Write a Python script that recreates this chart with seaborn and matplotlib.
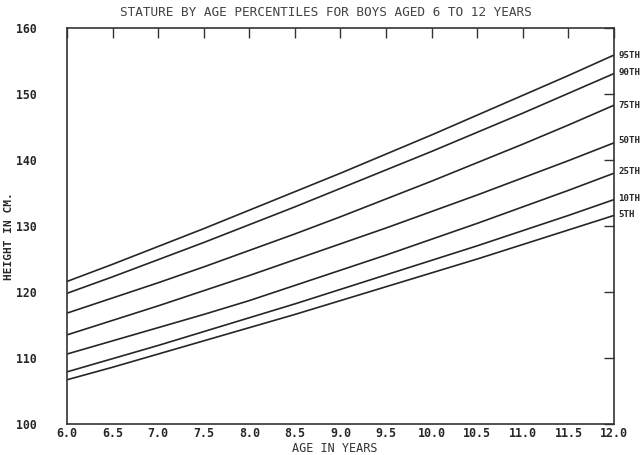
import matplotlib
matplotlib.use("Agg")
import matplotlib.pyplot as plt
import seaborn as sns
import pandas as pd

ages = [6.0, 6.5, 7.0, 7.5, 8.0, 8.5, 9.0, 9.5, 10.0, 10.5, 11.0, 11.5, 12.0]
p95 = [121.6, 124.2, 126.9, 129.6, 132.4, 135.2, 138.0, 140.9, 143.8, 146.8, 149.8, 152.8, 155.9]
p90 = [119.8, 122.3, 124.9, 127.5, 130.2, 132.9, 135.7, 138.5, 141.3, 144.2, 147.1, 150.1, 153.1]
p75 = [116.8, 119.1, 121.4, 123.8, 126.3, 128.8, 131.4, 134.1, 136.8, 139.6, 142.4, 145.3, 148.3]
p50 = [113.5, 115.7, 117.9, 120.2, 122.5, 124.9, 127.3, 129.7, 132.2, 134.7, 137.3, 139.9, 142.6]
p25 = [110.6, 112.6, 114.6, 116.6, 118.7, 121.0, 123.3, 125.6, 128.0, 130.4, 132.9, 135.4, 138.0]
p10 = [107.9, 109.9, 111.9, 114.0, 116.1, 118.2, 120.4, 122.6, 124.8, 127.0, 129.3, 131.6, 134.0]
p5 = [106.7, 108.6, 110.6, 112.6, 114.6, 116.6, 118.7, 120.8, 122.9, 125.0, 127.2, 129.4, 131.6]

percentiles = ["95TH", "90TH", "75TH", "50TH", "25TH", "10TH", "5TH"]
series = [p95, p90, p75, p50, p25, p10, p5]
label_y = [155.9, 153.2, 148.3, 143.0, 138.2, 134.2, 131.8]

x_ticks = [6.0, 6.5, 7.0, 7.5, 8.0, 8.5, 9.0, 9.5, 10.0, 10.5, 11.0, 11.5, 12.0]
y_ticks = [100, 110, 120, 130, 140, 150, 160]

rows = []
for name, vals in zip(percentiles, series):
    for a, v in zip(ages, vals):
        rows.append({"age": a, "height": v, "pct": name})
df = pd.DataFrame(rows)

sns.set_style("white")
plt.rcParams["font.family"] = ["DejaVu Sans Mono"]

W, H = 640, 455
fig = plt.figure(figsize=(6.4, 4.55), dpi=100)
ax = fig.add_axes([67 / W, 1 - 424 / H, (614 - 67) / W, (424 - 28) / H])

sns.lineplot(data=df, x="age", y="height", hue="pct", hue_order=percentiles,
             palette=["#262626"] * 7, linewidth=1.2, legend=False, ax=ax)

ax.set_xlim(6.0, 12.0)
ax.set_ylim(100, 160)
ax.set_xticks(x_ticks)
ax.set_xticklabels([f"{t:.1f}" for t in x_ticks])
ax.set_yticks(y_ticks)
ax.set_yticklabels([str(t) for t in y_ticks])
ax.tick_params(axis="both", direction="in", length=7, width=1.0, color="#333333",
               labelcolor="#262626", top=True, right=True,
               labelright=False, labeltop=False)
ax.tick_params(axis="x", pad=2.5, labelsize=8.4)
ax.tick_params(axis="y", pad=22, labelsize=8.3)
for lbl in ax.get_xticklabels() + ax.get_yticklabels():
    lbl.set_fontweight("bold")

for s in ax.spines.values():
    s.set_color("#333333")
    s.set_linewidth(1.2)

ax.set_xlabel("")
ax.set_ylabel("")
fig.text(335 / W, 1 - 448 / H, "AGE IN YEARS", fontsize=8.5, color="#333333",
         ha="center", va="center")
fig.text(9 / W, 1 - 236 / H, "HEIGHT IN CM.", fontsize=8.0, color="#262626",
         fontweight="bold", rotation=90, ha="center", va="center")
fig.text(326 / W, 1 - 13 / H, "STATURE BY AGE PERCENTILES FOR BOYS AGED 6 TO 12 YEARS",
         fontsize=9.2, color="#444444", ha="center", va="center")

for name, yv in zip(percentiles, label_y):
    ax.text(12.05, yv, name, fontsize=6.6, color="#262626", va="center", ha="left",
            fontweight="bold", clip_on=False)

fig.savefig("out.png", dpi=100)
